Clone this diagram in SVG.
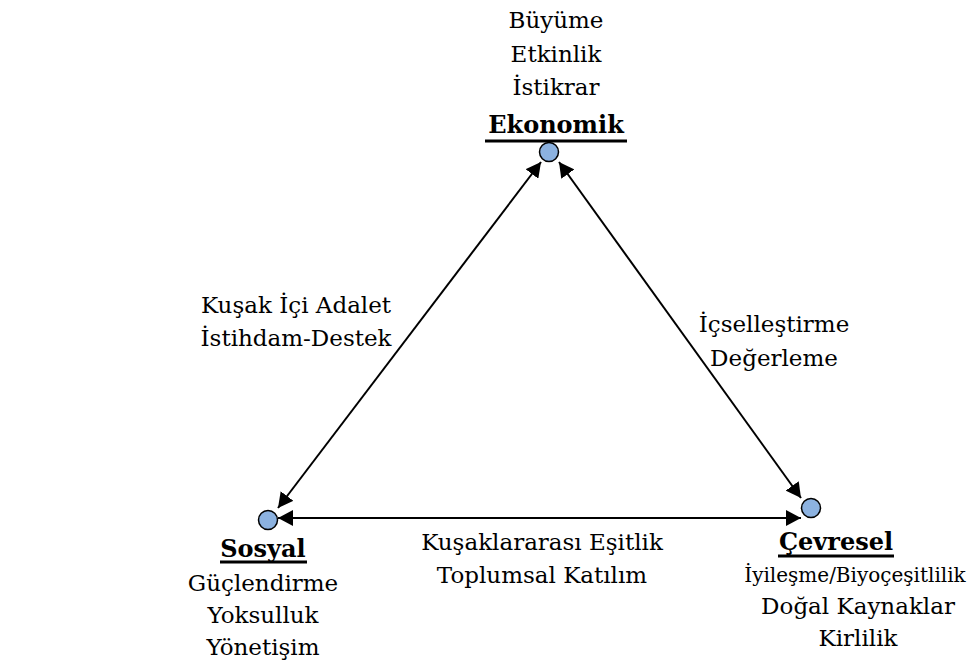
<svg xmlns="http://www.w3.org/2000/svg" width="973" height="668" viewBox="0 0 973 668">
<style>
text{font-family:'DejaVu Serif','Liberation Serif',serif;fill:#000;text-anchor:middle;font-size:23px}
.h{font-weight:bold;font-size:24px}
.s{font-size:20px}
.dot{fill:#8cb2e0;stroke:#000;stroke-width:1.5}
.ul{stroke:#000;stroke-width:3}
.con{stroke:#000;stroke-width:2;fill:none;marker-start:url(#ah);marker-end:url(#ah)}
</style>
<defs>
<marker id="ah" viewBox="0 0 15 16" markerWidth="15" markerHeight="16" refX="15" refY="8" orient="auto-start-reverse" markerUnits="userSpaceOnUse">
<path d="M0,0 L15,8 L0,16 z" fill="#000"/>
</marker>
</defs>
<rect width="973" height="668" fill="#fff"/>
<g id="connectors">
<line class="con" x1="541" y1="162" x2="278" y2="508"/>
<line class="con" x1="559" y1="162" x2="801" y2="498"/>
<line class="con" x1="278" y1="518" x2="801" y2="518"/>
</g>
<g id="edge-labels">
<text x="296" y="313">Kuşak İçi Adalet</text>
<text x="296" y="346">İstihdam-Destek</text>
<text x="774" y="332">İçselleştirme</text>
<text x="774" y="366">Değerleme</text>
<text x="542" y="550">Kuşaklararası Eşitlik</text>
<text x="542" y="583">Toplumsal Katılım</text>
</g>
<g id="ekonomik">
<text x="556" y="28">Büyüme</text>
<text x="556" y="62">Etkinlik</text>
<text x="556" y="95">İstikrar</text>
<text class="h" x="556" y="133">Ekonomik</text>
<line class="ul" x1="485" y1="141" x2="627" y2="141"/>
<circle class="dot" cx="549" cy="152" r="9.5"/>
</g>
<g id="sosyal">
<circle class="dot" cx="268" cy="520" r="9.5"/>
<text class="h" x="263" y="557">Sosyal</text>
<line class="ul" x1="220" y1="562" x2="307" y2="562"/>
<text x="263" y="591">Güçlendirme</text>
<text x="263" y="623">Yoksulluk</text>
<text x="263" y="655">Yönetişim</text>
</g>
<g id="cevresel">
<circle class="dot" cx="811" cy="508" r="9.5"/>
<text class="h" x="836" y="550">Çevresel</text>
<line class="ul" x1="778" y1="556" x2="894" y2="556"/>
<text class="s" x="855" y="582">İyileşme/Biyoçeşitlilik</text>
<text x="858" y="614">Doğal Kaynaklar</text>
<text x="858" y="646">Kirlilik</text>
</g>
</svg>
